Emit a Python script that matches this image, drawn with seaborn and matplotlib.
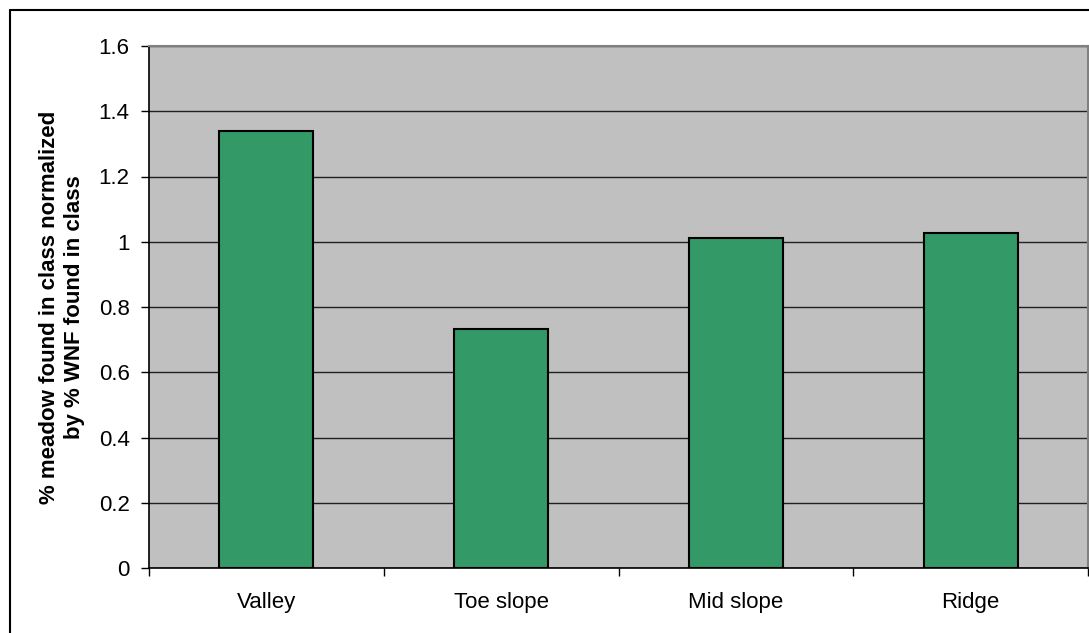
import matplotlib
matplotlib.use("Agg")
import matplotlib.pyplot as plt
from matplotlib.lines import Line2D
from matplotlib.ticker import FixedLocator
import seaborn as sns
import pandas as pd

# Landscape position classes and normalized meadow ratios
classes = ["Valley", "Toe slope", "Mid slope", "Ridge"]
ratios = [1.34, 0.733, 1.012, 1.026]
y_ticks = [0, 0.2, 0.4, 0.6, 0.8, 1.0, 1.2, 1.4, 1.6]
y_tick_labels = ["0", "0.2", "0.4", "0.6", "0.8", "1", "1.2", "1.4", "1.6"]

sns.set_theme(style="white")
plt.rcParams["font.family"] = ["Liberation Sans", "DejaVu Sans"]

df = pd.DataFrame({"cls": classes, "ratio": ratios})

fig = plt.figure(figsize=(10.89, 6.33), dpi=100)
fig.patch.set_facecolor("white")
ax = fig.add_axes([149 / 1089, 65 / 633, 939 / 1089, 522 / 633])
ax.set_facecolor("#C0C0C0")

sns.barplot(data=df, x="cls", y="ratio", color="#339966", width=0.4,
            saturation=1, edgecolor="black", linewidth=1.5, ax=ax, zorder=3)

ax.set_ylim(0, 1.6)
ax.set_xlim(-0.5, len(classes) - 0.5)
ax.set_yticks(y_ticks)
ax.set_yticklabels(y_tick_labels)
ax.yaxis.grid(True, color="#202020", linewidth=1.0, zorder=1)
ax.set_axisbelow(True)

# category boundary ticks on the x axis
ax.xaxis.set_minor_locator(FixedLocator([i - 0.5 for i in range(len(classes) + 1)]))
ax.tick_params(axis="x", which="major", length=0, pad=17, labelsize=16, colors="black")
ax.tick_params(axis="x", which="minor", bottom=True, length=6, width=1, color="black")
ax.tick_params(axis="y", which="major", left=True, length=6, width=1, color="black",
               pad=8, labelsize=16, labelcolor="black")

for side in ["left", "bottom"]:
    ax.spines[side].set_color("black")
    ax.spines[side].set_linewidth(1.2)
for side in ["top", "right"]:
    ax.spines[side].set_visible(True)
    ax.spines[side].set_color("#808080")
    ax.spines[side].set_linewidth(1.5)

ax.set_xlabel("")
ax.set_ylabel("% meadow found in class normalized\nby % WNF found in class",
              fontsize=16, fontweight="bold", color="black", linespacing=1.25)
ax.yaxis.set_label_coords(-0.068, 0.5)

# chart area frame
fig.add_artist(Line2D([10 / 1089, 10 / 1089], [0, 1 - 10 / 633],
                      transform=fig.transFigure, color="black", linewidth=1.5))
fig.add_artist(Line2D([10 / 1089, 1], [1 - 10 / 633, 1 - 10 / 633],
                      transform=fig.transFigure, color="black", linewidth=1.5))

fig.savefig("out.png", dpi=100)
